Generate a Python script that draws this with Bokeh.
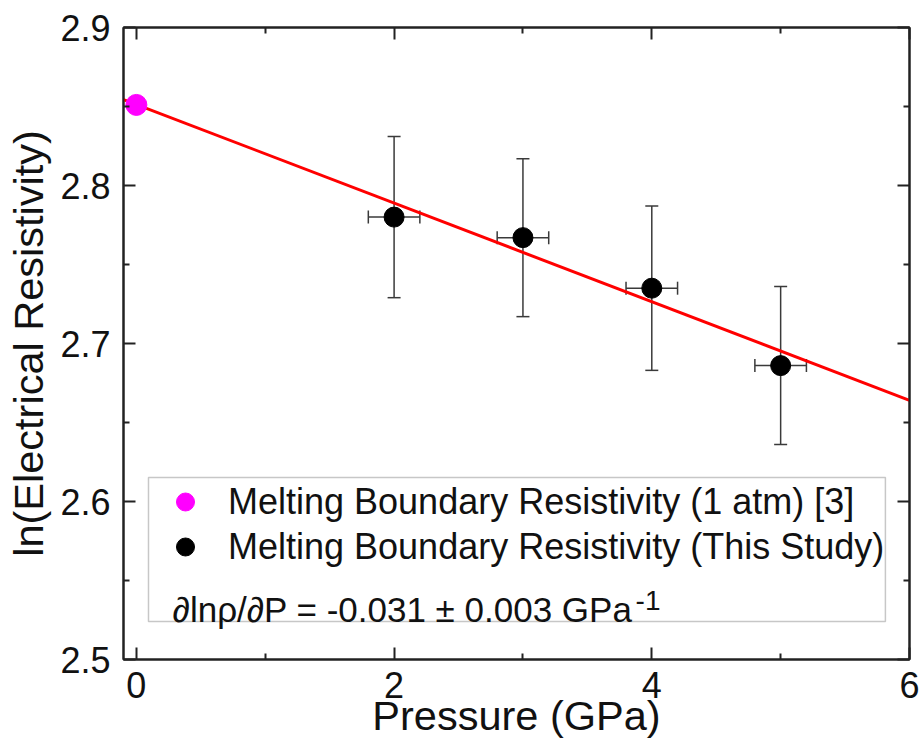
from bokeh.plotting import figure
from bokeh.models import (ColumnDataSource, Whisker, TeeHead, FixedTicker, LinearAxis, Range1d,
                          Legend, LegendItem, Label, BoxAnnotation)
from bokeh.embed import file_html
from bokeh.resources import INLINE

# ---------------- data ----------------
pressure_ref = [0.0]
lnrho_ref = [2.851]
pressure_study = [2.0, 3.0, 4.0, 5.0]
lnrho_study = [2.780, 2.767, 2.735, 2.686]
pressure_err = [0.2, 0.2, 0.2, 0.2]
lnrho_err = [0.051, 0.050, 0.052, 0.050]
fit_pressure = [-0.1, 6.0]
fit_lnrho = [2.8544, 2.664]
x_ticks = [0, 2, 4, 6]
x_minor_ticks = [1, 3, 5]
y_ticks = [2.5, 2.6, 2.7, 2.8, 2.9]
y_minor_ticks = [2.55, 2.65, 2.75, 2.85]
legend_labels = ["Melting Boundary Resistivity (1 atm) [3]",
                 "Melting Boundary Resistivity (This Study)"]
x_title = "Pressure (GPa)"
y_title = "ln(Electrical Resistivity)"
slope_text = "\u2202ln\u03c1/\u2202P = -0.031 \u00b1 0.003 GPa"
slope_sup = "-1"

FONT = "Liberation Sans"
FRAME = "#222222"
TEXT = "#111111"

p = figure(width=922, height=746, x_range=Range1d(-0.1, 6.0), y_range=Range1d(2.5, 2.9),
           output_backend="svg", toolbar_location=None,
           min_border_left=123, min_border_right=13, min_border_top=27, min_border_bottom=87,
           background_fill_color="white", border_fill_color="white")
p.grid.visible = False
p.outline_line_color = FRAME
p.outline_line_width = 2


def style_axis(ax, ticks, minor, labels=True):
    ax.ticker = FixedTicker(ticks=ticks, minor_ticks=minor)
    ax.major_tick_in = 12
    ax.major_tick_out = 0
    ax.minor_tick_in = 6
    ax.minor_tick_out = 0
    ax.major_tick_line_color = FRAME
    ax.minor_tick_line_color = FRAME
    ax.major_tick_line_width = 2
    ax.minor_tick_line_width = 2
    ax.axis_line_color = FRAME
    ax.axis_line_width = 2
    if labels:
        ax.major_label_text_font = FONT
        ax.major_label_text_font_size = "36px"
        ax.major_label_text_color = TEXT
        ax.axis_label_text_font = FONT
        ax.axis_label_text_font_size = "41.5px"
        ax.axis_label_text_font_style = "normal"
        ax.axis_label_text_color = TEXT
    else:
        ax.major_label_text_font_size = "0px"
        ax.major_label_text_alpha = 0


style_axis(p.xaxis[0], x_ticks, x_minor_ticks)
style_axis(p.yaxis[0], y_ticks, y_minor_ticks)
p.xaxis[0].axis_label = x_title
p.xaxis[0].major_label_standoff = 12
p.xaxis[0].axis_label_standoff = -9
p.yaxis[0].axis_label = y_title
p.yaxis[0].major_label_standoff = 13
p.yaxis[0].axis_label_standoff = 5
p.yaxis[0].formatter.use_scientific = False

top_ax = LinearAxis()
style_axis(top_ax, x_ticks, x_minor_ticks, labels=False)
p.add_layout(top_ax, "above")
right_ax = LinearAxis()
style_axis(right_ax, y_ticks, y_minor_ticks, labels=False)
p.add_layout(right_ax, "right")

# ---------------- error bars ----------------
src = ColumnDataSource(dict(
    x=pressure_study, y=lnrho_study,
    ylo=[v - e for v, e in zip(lnrho_study, lnrho_err)],
    yhi=[v + e for v, e in zip(lnrho_study, lnrho_err)],
    xlo=[v - e for v, e in zip(pressure_study, pressure_err)],
    xhi=[v + e for v, e in zip(pressure_study, pressure_err)],
))
ERR = "#3a3a3a"
for dim, base, lo, hi in (("height", "x", "ylo", "yhi"), ("width", "y", "xlo", "xhi")):
    w = Whisker(base=base, lower=lo, upper=hi, dimension=dim, source=src,
                line_color=ERR, line_width=1.5,
                upper_head=TeeHead(size=13, line_color=ERR, line_width=1.5),
                lower_head=TeeHead(size=13, line_color=ERR, line_width=1.5))
    p.add_layout(w)

# ---------------- fit line and points ----------------
p.line(fit_pressure, fit_lnrho, line_color="red", line_width=3)
r_ref = p.scatter(pressure_ref, lnrho_ref, size=21, fill_color="#ff00ff", line_color="#ff00ff")
r_study = p.scatter(pressure_study, lnrho_study, size=20, fill_color="black", line_color="black")

# ---------------- legend ----------------
box = BoxAnnotation(left=0.094, right=5.813, top=2.6152, bottom=2.5241,
                    fill_color="white", fill_alpha=1.0, line_color="#444444", line_width=1.5,
                    level="underlay")
p.add_layout(box)

legend = Legend(items=[LegendItem(label=legend_labels[0], renderers=[r_ref]),
                       LegendItem(label=legend_labels[1], renderers=[r_study])],
                location=(37, 90), padding=0, margin=0, border_line_color=None,
                background_fill_alpha=0, glyph_width=50, glyph_height=45, spacing=0,
                label_standoff=18, label_text_font=FONT, label_text_font_size="36px",
                label_text_color=TEXT)
p.add_layout(legend)

p.add_layout(Label(x=0.281, y=2.5316, text=slope_text, text_font=FONT, text_font_size="35px",
                   text_color=TEXT, text_baseline="alphabetic"))
p.add_layout(Label(x=3.874, y=2.5373, text=slope_sup, text_font=FONT, text_font_size="28px",
                   text_color=TEXT, text_baseline="alphabetic"))

open("out.html", "w").write(file_html(p, INLINE))
